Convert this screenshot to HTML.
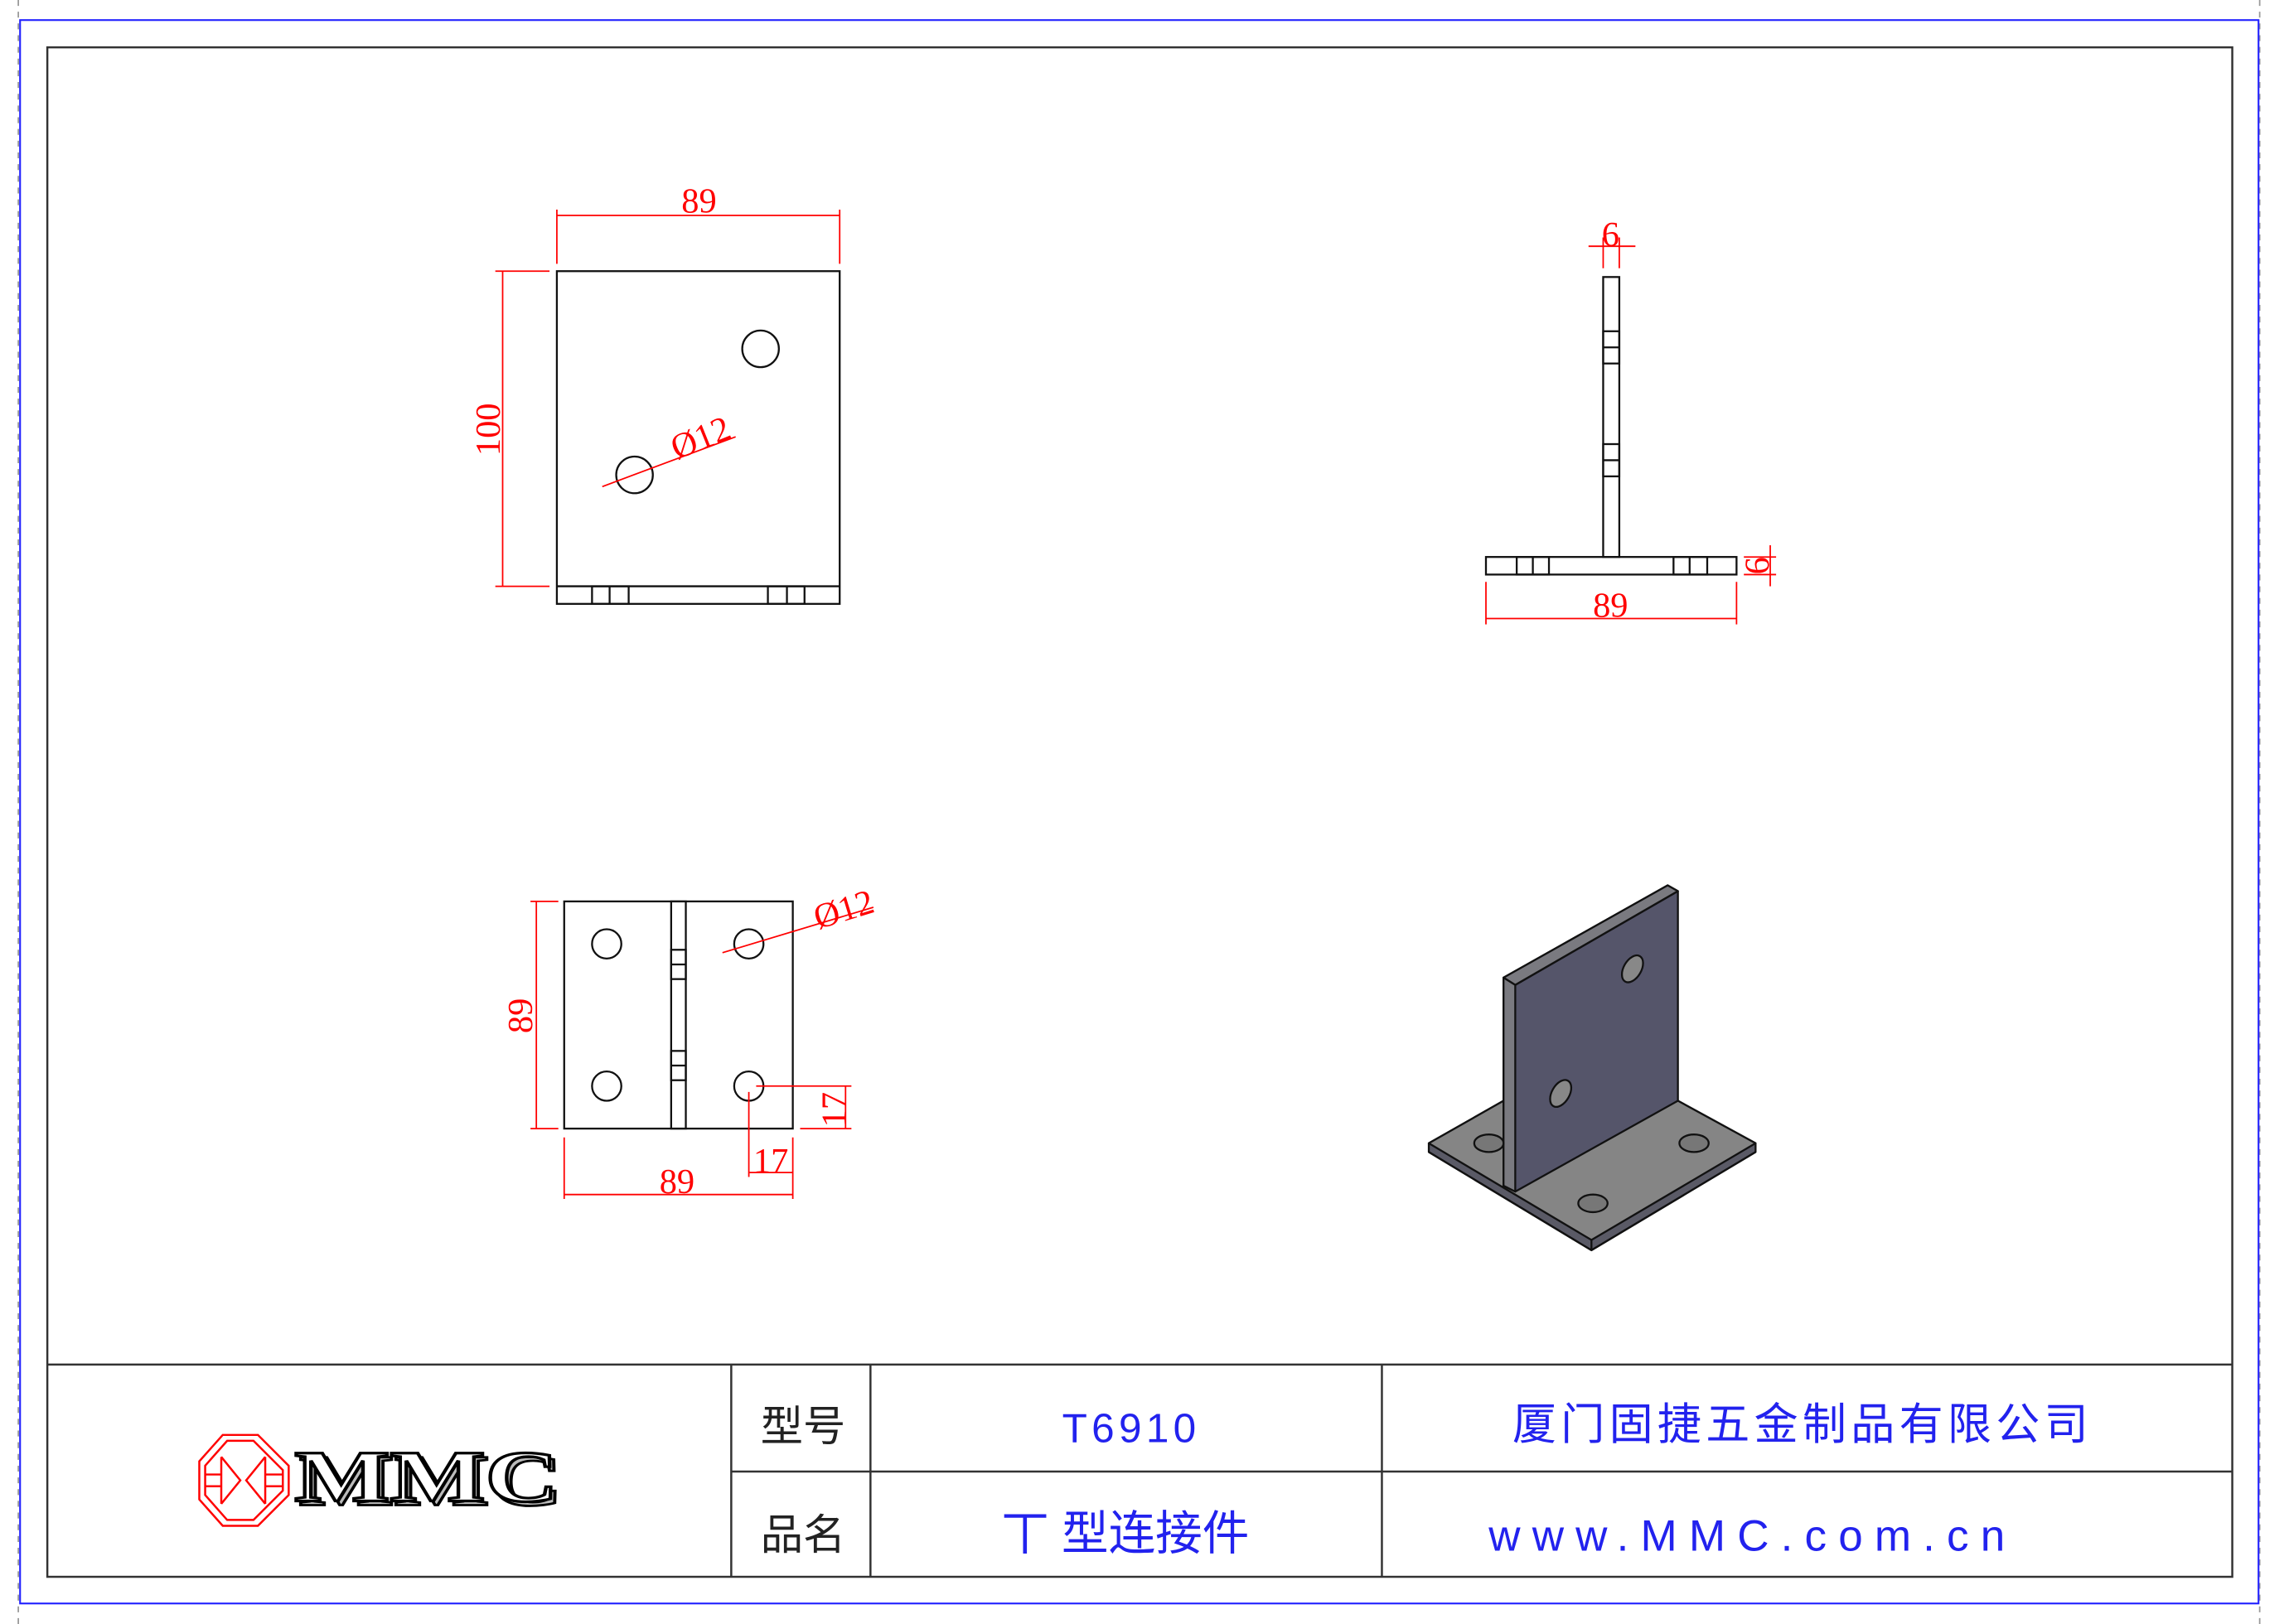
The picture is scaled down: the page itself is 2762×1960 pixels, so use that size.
<!DOCTYPE html>
<html><head><meta charset="utf-8"><style>
html,body{margin:0;padding:0;background:#fff;}
svg{display:block;}
.k{stroke:#111;stroke-width:1.3;fill:none;}
.r{stroke:#f00;stroke-width:1;fill:none;}
.dt{font-family:"Liberation Serif",serif;fill:#f00;font-size:24px;text-anchor:middle;}
.bt{font-family:"Liberation Sans","Noto Sans CJK SC",sans-serif;fill:#2222ee;}
</style></head><body>
<svg width="2762" height="1960" viewBox="0 0 1562 1108" preserveAspectRatio="none" xmlns="http://www.w3.org/2000/svg">
<rect width="1562" height="1108" fill="#fff"/>
<!-- frames -->
<line x1="12.5" y1="0" x2="12.5" y2="1108" stroke="#999" stroke-width="1" stroke-dasharray="4,4"/>
<line x1="1542" y1="0" x2="1542" y2="1108" stroke="#999" stroke-width="1" stroke-dasharray="4,4"/>
<rect x="13.7" y="13.7" width="1527.5" height="1080.3" fill="none" stroke="#2222ff" stroke-width="1.2"/>
<rect x="32.3" y="32.3" width="1491" height="1043.5" fill="none" stroke="#333" stroke-width="1.4"/>
<!-- title block -->
<g stroke="#333" stroke-width="1.4">
<line x1="32" y1="931" x2="1523" y2="931"/>
<line x1="499" y1="1004" x2="1523" y2="1004"/>
<line x1="499" y1="931" x2="499" y2="1076"/>
<line x1="594" y1="931" x2="594" y2="1076"/>
<line x1="943" y1="931" x2="943" y2="1076"/>
</g>
<text x="548" y="983" font-size="29" text-anchor="middle" font-family="Noto Sans CJK SC,sans-serif" fill="#222">型号</text>
<text x="548" y="1057" font-size="29" text-anchor="middle" font-family="Noto Sans CJK SC,sans-serif" fill="#222">品名</text>
<text class="bt" x="772" y="984" font-size="28" text-anchor="middle" letter-spacing="3">T6910</text>
<text class="bt" x="768" y="1057" font-size="32" text-anchor="middle">丅 型连接件</text>
<text class="bt" x="1230" y="982" font-size="30" text-anchor="middle" letter-spacing="3">厦门固捷五金制品有限公司</text>
<text class="bt" x="1196" y="1058" font-size="30" text-anchor="middle" letter-spacing="8">www.MMC.com.cn</text>
<!-- logo -->
<g stroke="#f00" stroke-width="1.4" fill="none">
<polygon points="152,979 176,979 197,1000 197,1020 176,1041 152,1041 136,1023 136,997"/>
<polygon points="155,983 173,983 193,1003 193,1017 173,1037 155,1037 140,1020 140,1000"/>
<line x1="151" y1="994" x2="151" y2="1026"/><line x1="181" y1="994" x2="181" y2="1026"/>
<line x1="140" y1="1006" x2="151" y2="1006"/><line x1="140" y1="1014" x2="151" y2="1014"/>
<line x1="181" y1="1006" x2="193" y2="1006"/><line x1="181" y1="1014" x2="193" y2="1014"/>
<polyline points="151,994 164,1010 151,1026"/><polyline points="181,994 168,1010 181,1026"/>
</g>
<text x="204" y="1027" font-family="Liberation Serif,serif" font-weight="bold" font-size="50" fill="#bbb" stroke="#000" stroke-width="1.6" textLength="180" lengthAdjust="spacingAndGlyphs">MMC</text>
<text x="201" y="1024" font-family="Liberation Serif,serif" font-weight="bold" font-size="50" fill="#fff" stroke="#000" stroke-width="1.8" textLength="180" lengthAdjust="spacingAndGlyphs">MMC</text>
<!-- front view -->
<rect class="k" x="380" y="185" width="193" height="227"/>
<line class="k" x1="380" y1="400" x2="573" y2="400"/>
<rect class="k" x="404" y="400" width="25" height="12"/><line class="k" x1="416" y1="400" x2="416" y2="412"/>
<rect class="k" x="524" y="400" width="25" height="12"/><line class="k" x1="537" y1="400" x2="537" y2="412"/>
<circle class="k" cx="519" cy="238" r="12.5"/>
<circle class="k" cx="433" cy="324" r="12.5"/>
<g class="r">
<line x1="380" y1="143" x2="380" y2="180"/><line x1="573" y1="143" x2="573" y2="180"/>
<line x1="380" y1="147" x2="573" y2="147"/>
<line x1="338" y1="185" x2="375" y2="185"/><line x1="338" y1="400" x2="375" y2="400"/>
<line x1="343" y1="185" x2="343" y2="400"/>
<line x1="411" y1="332" x2="502" y2="298"/>
</g>
<text class="dt" x="477" y="145">89</text>
<text class="dt" transform="translate(341,293) rotate(-90)">100</text>
<text class="dt" transform="translate(481,306) rotate(-22)">Ø12</text>
<!-- side view -->
<rect class="k" x="1094" y="189" width="11" height="191"/>
<rect class="k" x="1094" y="226" width="11" height="22"/><line class="k" x1="1094" y1="237" x2="1105" y2="237"/>
<rect class="k" x="1094" y="303" width="11" height="22"/><line class="k" x1="1094" y1="314" x2="1105" y2="314"/>
<rect class="k" x="1014" y="380" width="171" height="12"/>
<rect class="k" x="1035" y="380" width="22" height="12"/><line class="k" x1="1046" y1="380" x2="1046" y2="392"/>
<rect class="k" x="1142" y="380" width="23" height="12"/><line class="k" x1="1153" y1="380" x2="1153" y2="392"/>
<g class="r">
<line x1="1094" y1="162" x2="1094" y2="183"/><line x1="1105" y1="162" x2="1105" y2="183"/>
<line x1="1084" y1="168" x2="1116" y2="168"/>
<line x1="1014" y1="397" x2="1014" y2="426"/><line x1="1185" y1="397" x2="1185" y2="426"/>
<line x1="1014" y1="422" x2="1185" y2="422"/>
<line x1="1190" y1="380" x2="1212" y2="380"/><line x1="1190" y1="392" x2="1212" y2="392"/>
<line x1="1208" y1="372" x2="1208" y2="400"/>
</g>
<text class="dt" x="1099" y="168">6</text>
<text class="dt" x="1099" y="421">89</text>
<text class="dt" transform="translate(1207,386) rotate(-90)">6</text>
<!-- bottom view -->
<rect class="k" x="385" y="615" width="156" height="155"/>
<rect class="k" x="458" y="615" width="10" height="155"/>
<rect class="k" x="458" y="648" width="10" height="20"/><line class="k" x1="458" y1="658" x2="468" y2="658"/>
<rect class="k" x="458" y="717" width="10" height="20"/><line class="k" x1="458" y1="727" x2="468" y2="727"/>
<circle class="k" cx="414" cy="644" r="10"/><circle class="k" cx="511" cy="644" r="10"/>
<circle class="k" cx="414" cy="741" r="10"/><circle class="k" cx="511" cy="741" r="10"/>
<g class="r">
<line x1="362" y1="615" x2="381" y2="615"/><line x1="362" y1="770" x2="381" y2="770"/>
<line x1="366" y1="615" x2="366" y2="770"/>
<line x1="385" y1="776" x2="385" y2="818"/><line x1="541" y1="776" x2="541" y2="818"/>
<line x1="385" y1="815" x2="541" y2="815"/>
<line x1="511" y1="745" x2="511" y2="803"/>
<line x1="511" y1="800" x2="541" y2="800"/>
<line x1="516" y1="741" x2="581" y2="741"/><line x1="546" y1="770" x2="581" y2="770"/>
<line x1="577" y1="741" x2="577" y2="770"/>
<line x1="493" y1="650" x2="596" y2="619"/>
</g>
<text class="dt" x="462" y="814" font-size="20">89</text>
<text class="dt" x="526" y="800" font-size="20">17</text>
<text class="dt" transform="translate(363,693) rotate(-90)" font-size="20">89</text>
<text class="dt" transform="translate(577,757) rotate(-90)" font-size="20">17</text>
<text class="dt" transform="translate(578,628) rotate(-17)" font-size="20">Ø12</text>
<!-- isometric -->
<g stroke="#111" stroke-width="1.3" stroke-linejoin="round">
<polygon points="975,780 1026,751 1145,751 1198,780 1198,786 1086,853 975,786" fill="#5a5a66"/>
<polygon points="975,780 1026,751 1145,751 1198,780 1086,846" fill="#858585"/>
<polygon points="1026,667 1138,604 1145,608 1145,751 1034,813 1026,809" fill="#55556a"/>
<polygon points="1026,667 1138,604 1145,608 1034,672" fill="#7a7a80"/>
<polygon points="1026,667 1034,672 1034,813 1026,809" fill="#7a7a80"/>
<line x1="1034" y1="672" x2="1145" y2="608"/>
<polyline points="975,786 1086,853 1198,786" fill="none"/>
<line x1="1086" y1="846" x2="1086" y2="853"/>
<ellipse cx="1114" cy="661" rx="6" ry="10" transform="rotate(30 1114 661)" fill="#888"/>
<ellipse cx="1065" cy="746" rx="6" ry="10" transform="rotate(30 1065 746)" fill="#888"/>
<ellipse cx="1016" cy="780" rx="10" ry="6" fill="#777"/>
<ellipse cx="1156" cy="780" rx="10" ry="6" fill="#777"/>
<ellipse cx="1087" cy="821" rx="10" ry="6" fill="#777"/>
</g>
</svg>
</body></html>
